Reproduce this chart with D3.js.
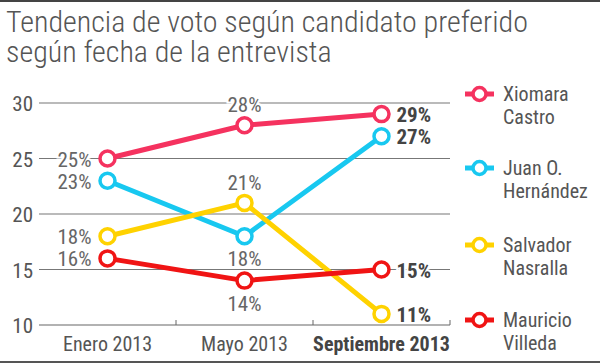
<!DOCTYPE html>
<html>
<head>
<meta charset="utf-8">
<script src="https://cdn.jsdelivr.net/npm/d3@7"></script>
<style>
  body { margin: 0; background: #fff; }
  svg text { font-family: "Liberation Sans Narrow", "Roboto Condensed", "DejaVu Sans Condensed", sans-serif; }
</style>
</head>
<body>
<svg id="chart" width="600" height="363"></svg>
<script>
// data
var months = ["Enero 2013", "Mayo 2013", "Septiembre 2013"];
var candidates = ["Xiomara Castro", "Juan O. Hernández", "Salvador Nasralla", "Mauricio Villeda"];
var xiomara = [25, 28, 29];
var juan = [23, 18, 27];
var salvador = [18, 21, 11];
var mauricio = [16, 14, 15];
var yTicks = [10, 15, 20, 25, 30];

var colors = ["#f5325f", "#18c8f0", "#ffd200", "#f01414"];
var values = [xiomara, juan, salvador, mauricio];
// where the middle label goes: above or below the dot
var midSide = ["up", "down", "up", "down"];

var svg = d3.select("#chart");

// frame lines
svg.append("rect").attr("x", 0).attr("y", 0).attr("width", 600).attr("height", 2).attr("fill", "#444");
svg.append("rect").attr("x", 0).attr("y", 361).attr("width", 600).attr("height", 2).attr("fill", "#555");

// title
var title = svg.append("text").attr("x", 6).attr("y", 32)
    .style("font-size", "30px").style("fill", "#555").style("font-weight", 300);
title.append("tspan").attr("x", 6).text("Tendencia de voto según candidato preferido");
title.append("tspan").attr("x", 6).attr("dy", 30).text("según fecha de la entrevista");

var x = d3.scaleBand().domain(months).range([39, 450]);
var y = d3.scaleLinear().domain([10, 30]).range([325, 103]);

// gridlines
svg.selectAll("line.grid").data(yTicks).enter().append("line")
    .attr("class", "grid")
    .attr("x1", 39).attr("x2", 450)
    .attr("y1", function(d){ return y(d); })
    .attr("y2", function(d){ return y(d); })
    .style("stroke", function(d){ return d == 10 ? "#666" : "#777"; })
    .style("stroke-width", 1.2);

svg.selectAll("text.ytick").data(yTicks).enter().append("text")
    .attr("class", "ytick")
    .attr("x", 33).attr("y", function(d){ return y(d) + 8; })
    .attr("text-anchor", "end")
    .style("font-size", "21px").style("fill", "#555")
    .text(function(d){ return d; });

// small ticks between months on the baseline
var bounds = months.slice(1).map(function(m){ return x(m); }).concat([x.range()[1]]);
svg.selectAll("line.xtick").data(bounds).enter().append("line")
    .attr("x1", function(d){ return d; }).attr("x2", function(d){ return d; })
    .attr("y1", 325).attr("y2", 320)
    .style("stroke", "#666").style("stroke-width", 1);

svg.selectAll("text.xlab").data(months).enter().append("text")
    .attr("x", function(d){ return x(d) + x.bandwidth() / 2; })
    .attr("y", 351)
    .attr("text-anchor", "middle")
    .style("font-size", "20px")
    .style("fill", function(d, i){ return i == 2 ? "#444" : "#555"; })
    .style("font-weight", function(d, i){ return i == 2 ? "bold" : "normal"; })
    .text(function(d){ return d; });

function cx(i){ return x(months[i]) + x.bandwidth() / 2; }

var line = d3.line()
    .x(function(d, i){ return cx(i); })
    .y(function(d){ return y(d); });

values.forEach(function(vals, s){
    svg.append("path").datum(vals)
        .attr("d", line)
        .style("fill", "none")
        .style("stroke", colors[s])
        .style("stroke-width", 5)
        .style("stroke-linejoin", "round");
});

values.forEach(function(vals, s){
    svg.selectAll("circle.s" + s).data(vals).enter().append("circle")
        .attr("cx", function(d, i){ return cx(i); })
        .attr("cy", function(d){ return y(d); })
        .attr("r", 7.5)
        .style("fill", "#fff")
        .style("stroke", colors[s])
        .style("stroke-width", 3.5);
});

// value labels
values.forEach(function(vals, s){
    svg.selectAll("text.v" + s).data(vals).enter().append("text")
        .attr("x", function(d, i){
            if (i == 0) return cx(i) - 16;
            if (i == 2) return cx(i) + 15;
            return cx(i);
        })
        .attr("y", function(d, i){
            if (i == 1) return midSide[s] == "up" ? y(d) - 13 : y(d) + 30;
            return y(d) + 8;
        })
        .attr("text-anchor", function(d, i){ return i == 0 ? "end" : (i == 2 ? "start" : "middle"); })
        .style("font-size", "21px")
        .style("fill", function(d, i){ return i == 2 ? "#444" : "#666"; })
        .style("font-weight", function(d, i){ return i == 2 ? "bold" : "normal"; })
        .style("stroke", "#fff").style("stroke-width", 4).style("paint-order", "stroke")
        .text(function(d){ return d + "%"; });
});

// legend
var legendY = [94, 168, 245, 320];
candidates.forEach(function(name, s){
    var g = svg.append("g").attr("transform", "translate(0," + legendY[s] + ")");
    g.append("line").attr("x1", 465).attr("x2", 494).attr("y1", 0).attr("y2", 0)
        .style("stroke", colors[s]).style("stroke-width", 5);
    g.append("circle").attr("cx", 479.5).attr("cy", 0).attr("r", 6.5)
        .style("fill", "#fff").style("stroke", colors[s]).style("stroke-width", 3.5);
    var words = name.split(" ");
    var first = words.slice(0, words.length - 1).join(" ");
    var last = words[words.length - 1];
    var t = g.append("text").attr("x", 503).attr("y", 7)
        .style("font-size", "20px").style("fill", "#555");
    t.append("tspan").attr("x", 503).text(first);
    t.append("tspan").attr("x", 503).attr("dy", 23).text(last);
});
</script>
</body>
</html>
